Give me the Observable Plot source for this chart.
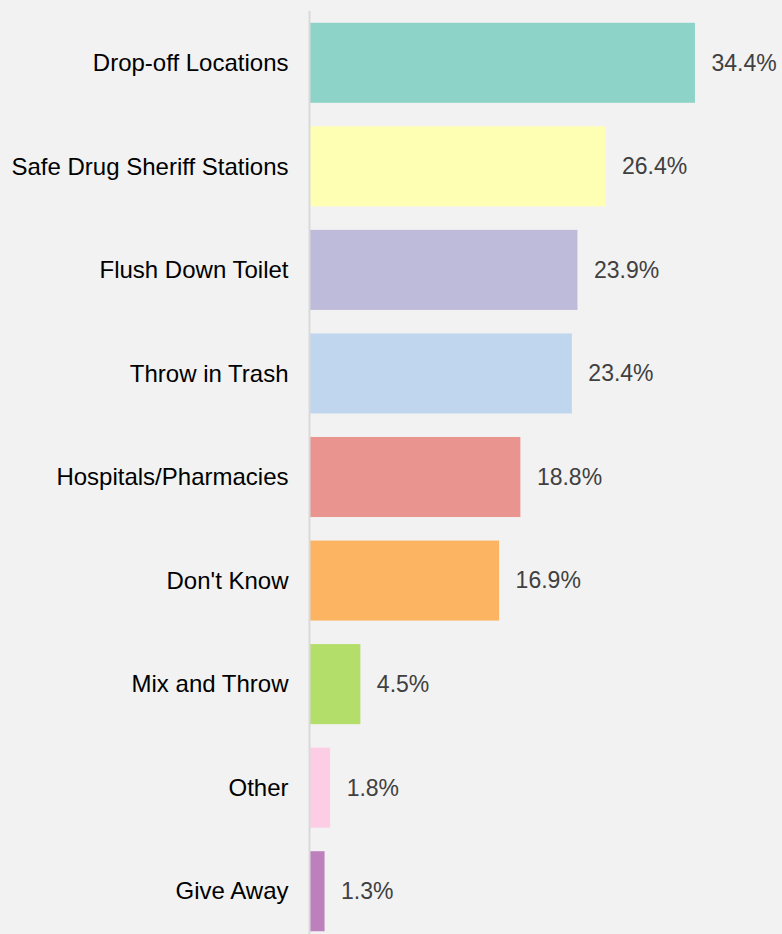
<!DOCTYPE html>
<html>
<head>
<meta charset="utf-8">
<script src="https://cdn.jsdelivr.net/npm/d3@7"></script>
<script src="https://cdn.jsdelivr.net/npm/@observablehq/plot@0.6"></script>
<style>
  html, body { margin: 0; padding: 0; background: #f2f2f2; overflow: hidden; }
  #chart svg { display: block; }
</style>
</head>
<body>
<div id="chart"></div>
<script>
const categories = [
  "Drop-off Locations",
  "Safe Drug Sheriff Stations",
  "Flush Down Toilet",
  "Throw in Trash",
  "Hospitals/Pharmacies",
  "Don't Know",
  "Mix and Throw",
  "Other",
  "Give Away"
];
const values = [34.4, 26.4, 23.9, 23.4, 18.8, 16.9, 4.5, 1.8, 1.3];
const valueLabels = ["34.4%", "26.4%", "23.9%", "23.4%", "18.8%", "16.9%", "4.5%", "1.8%", "1.3%"];
const colors = ["#8dd3c7", "#ffffb3", "#bebada", "#bfd6ee", "#e9948f", "#fdb462", "#b3de69", "#fccde5", "#bc80bd"];

const data = categories.map((c, i) => ({category: c, value: values[i], label: valueLabels[i], color: colors[i]}));

const chart = Plot.plot({
  width: 782,
  height: 943,
  marginLeft: 310,
  marginRight: 2,
  marginTop: 11,
  marginBottom: 0,
  style: {background: "#f2f2f2", fontFamily: "Arial, 'Liberation Sans', sans-serif"},
  x: {domain: [0, 42], axis: null},
  y: {domain: categories, paddingInner: 0.227, paddingOuter: 0.1135, round: false, label: null},
  marks: [
    Plot.barX(data, {y: "category", x: "value", fill: "color"}),
    Plot.ruleX([0], {stroke: "#d9d9d9", strokeWidth: 2, dx: -1}),
    Plot.text(data, {y: "category", x: "value", text: "label", textAnchor: "start", dx: 16, fill: "#404040", fontSize: 23}),
    Plot.axisY({tickSize: 0, tickPadding: 22, fontSize: 24, color: "#000", label: null})
  ]
});
document.getElementById("chart").appendChild(chart);
</script>
</body>
</html>
